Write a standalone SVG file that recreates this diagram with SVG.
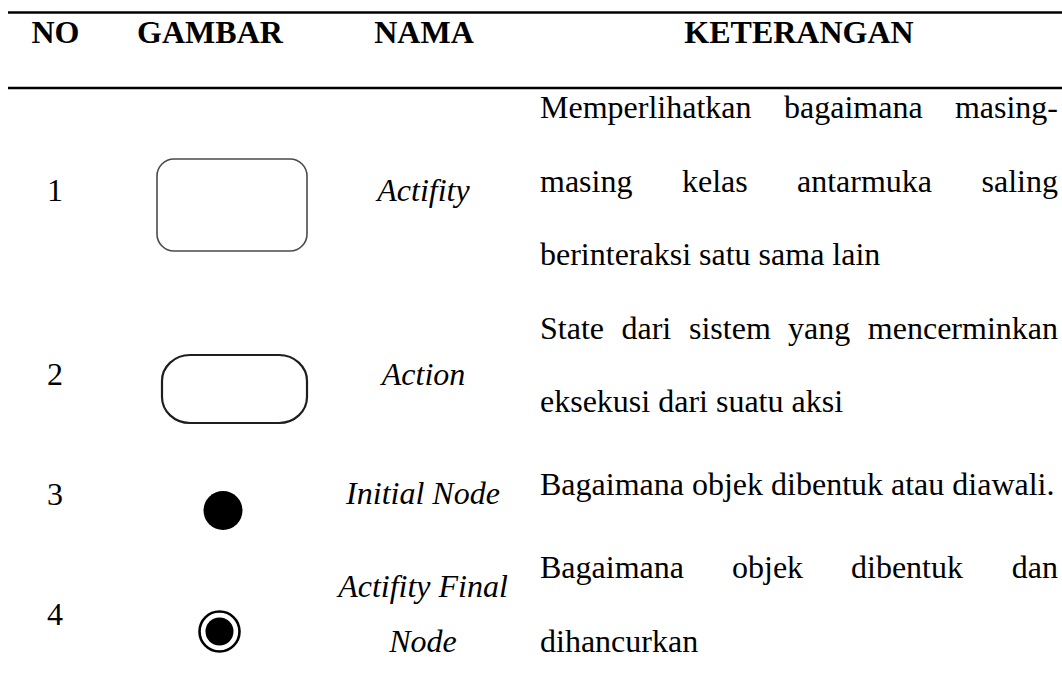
<svg xmlns="http://www.w3.org/2000/svg" width="1062" height="688" viewBox="0 0 1062 688">
  <style>
    text { font-family: "Liberation Serif", "Times New Roman", serif; font-size: 32px; fill: #000; }
    .head { font-weight: bold; text-anchor: middle; }
    .num { text-anchor: middle; }
    .name { font-style: italic; text-anchor: middle; }
    .rule { stroke: #000; stroke-width: 2.6; }
  </style>

  <!-- table rules -->
  <g id="rules">
    <line class="rule" x1="8" y1="12.5" x2="1062" y2="12.5"/>
    <line class="rule" x1="8" y1="88" x2="1062" y2="88"/>
  </g>

  <!-- header row -->
  <g id="header">
    <text class="head" x="55.5" y="43">NO</text>
    <text class="head" x="210" y="43">GAMBAR</text>
    <text class="head" x="424" y="43">NAMA</text>
    <text class="head" x="799" y="43">KETERANGAN</text>
  </g>

  <!-- row 1: activity -->
  <g id="row-activity">
    <text class="num" x="55" y="200.5">1</text>
    <rect x="157" y="159" width="150" height="92" rx="17" ry="17" fill="#fff" stroke="#4a4a4a" stroke-width="1.6"/>
    <text class="name" x="423.5" y="200.5">Actifity</text>
    <text y="118"><tspan x="540">Memperlihatkan</tspan><tspan x="784">bagaimana</tspan><tspan x="1058" text-anchor="end">masing-</tspan></text>
    <text y="191.6"><tspan x="540">masing</tspan><tspan x="682">kelas</tspan><tspan x="797">antarmuka</tspan><tspan x="1058" text-anchor="end">saling</tspan></text>
    <text x="540" y="265.2">berinteraksi satu sama lain</text>
  </g>

  <!-- row 2: action -->
  <g id="row-action">
    <text class="num" x="55" y="384.5">2</text>
    <rect x="162" y="355" width="145" height="68" rx="28" ry="26" fill="#fff" stroke="#1e1e1e" stroke-width="2.2"/>
    <text class="name" x="423.5" y="384.5">Action</text>
    <text y="338.5"><tspan x="540">State</tspan><tspan x="621.5">dari</tspan><tspan x="689">sistem</tspan><tspan x="788">yang</tspan><tspan x="1058" text-anchor="end">mencerminkan</tspan></text>
    <text x="540" y="412">eksekusi dari suatu aksi</text>
  </g>

  <!-- row 3: initial node -->
  <g id="row-initial">
    <text class="num" x="55" y="505">3</text>
    <circle cx="223" cy="510.5" r="19.5" fill="#000"/>
    <text class="name" x="423" y="504">Initial Node</text>
    <text x="540" y="495">Bagaimana objek dibentuk atau diawali.</text>
  </g>

  <!-- row 4: activity final node -->
  <g id="row-final">
    <text class="num" x="55" y="625">4</text>
    <circle cx="219.5" cy="631.5" r="20" fill="#fff" stroke="#000" stroke-width="2.6"/>
    <circle cx="219.5" cy="631.5" r="14" fill="#000"/>
    <text class="name" x="423" y="596.5">Actifity Final</text>
    <text class="name" x="423" y="651.5">Node</text>
    <text y="578"><tspan x="540">Bagaimana</tspan><tspan x="732">objek</tspan><tspan x="851">dibentuk</tspan><tspan x="1058" text-anchor="end">dan</tspan></text>
    <text x="540" y="652">dihancurkan</text>
  </g>
</svg>
